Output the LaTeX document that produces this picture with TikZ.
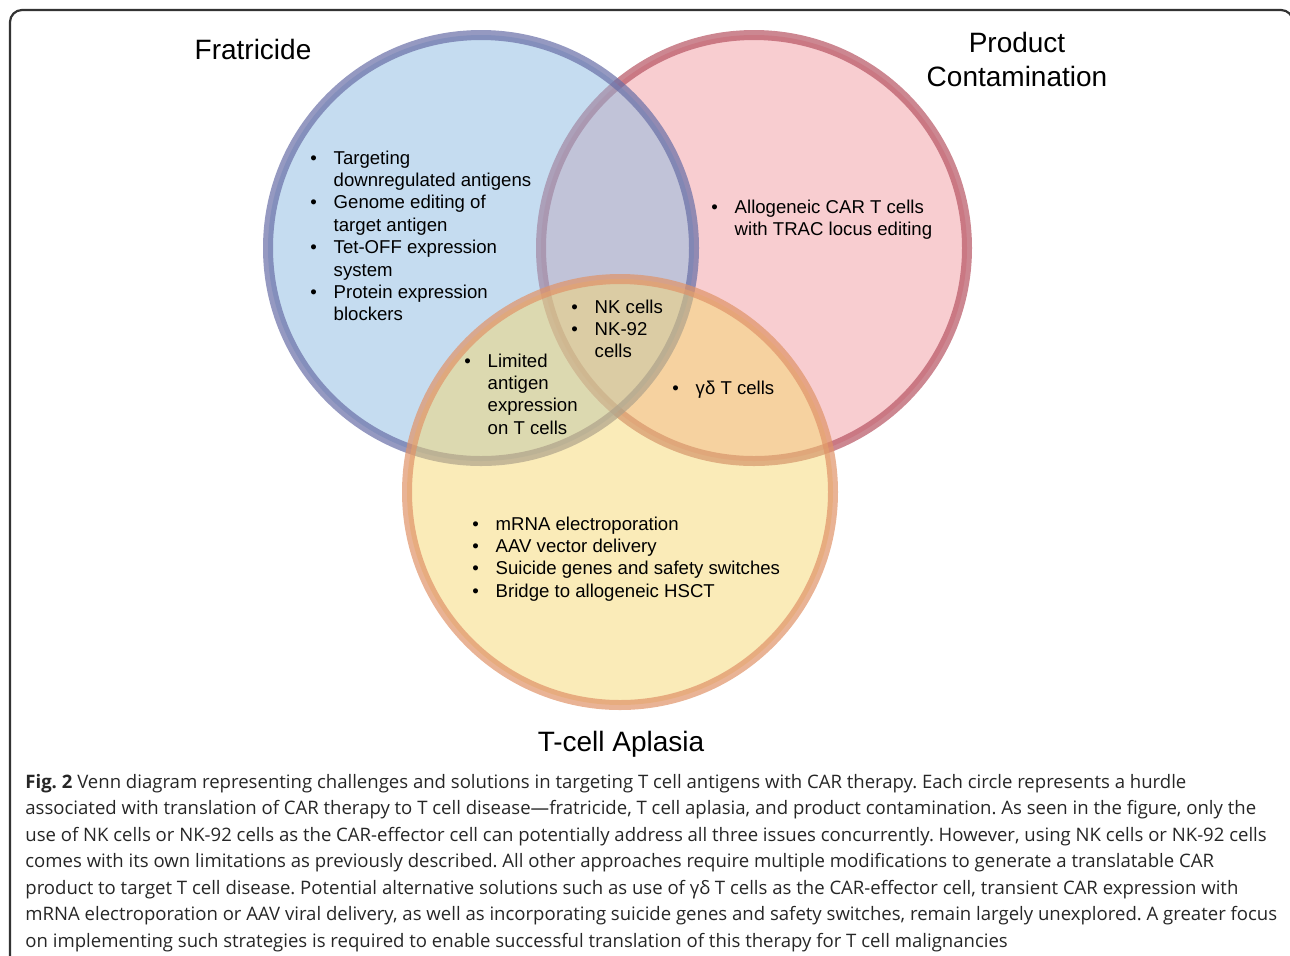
\documentclass[tikz,border=0pt]{standalone}
\usepackage{fontspec}
\setmainfont{Liberation Sans}
\newfontfamily\capfont{Open Sans}
\usepackage{tikz}

\definecolor{frafill}{RGB}{139,185,225}
\definecolor{fraline}{RGB}{104,110,166}
\definecolor{confill}{RGB}{241,155,161}
\definecolor{conline}{RGB}{183,84,99}
\definecolor{aplfill}{RGB}{245,215,113}
\definecolor{aplline}{RGB}{224,147,104}

\tikzset{
  venn/.style={line width=5pt, fill opacity=0.5, draw opacity=0.7},
  head/.style={anchor=base, inner sep=0pt, font=\fontsize{14}{17}\selectfont},
  pts/.style={anchor=base west, inner sep=0pt, font=\fontsize{9.3}{11.2}\selectfont},
}
\newcommand{\blist}[1]{\begin{tabular}[t]{@{}l@{\hspace{8.4pt}}l@{}}#1\end{tabular}}

\begin{document}
\begin{tikzpicture}[x=0.5pt,y=-0.5pt]
  \useasboundingbox (0,0) rectangle (1290,955);
  \clip (0,0) rectangle (1290,955);
  % frame
  \draw[line width=1.1pt, black!80, rounded corners=6pt]
    (10,965) -- (10,10) -- (1293,10) -- (1293,965);
  % circles
  \draw[venn, draw=conline, fill=confill] (754,248) circle (106.5pt);
  \draw[venn, draw=fraline, fill=frafill] (481,248) circle (106.5pt);
  \draw[venn, draw=aplline, fill=aplfill] (620,492) circle (106.5pt);
  % titles
  \node[head] (fra) at (253,59) {Fratricide};
  \node[head] (con) at (1017,52) {\begin{tabular}[t]{@{}c@{}}Product\\Contamination\end{tabular}};
  \node[head] (apl) at (621,751) {T-cell Aplasia};
  % lists
  \node[pts] (fralist) at (310,164) {\blist{%
    \textbullet & Targeting\\
                & downregulated antigens\\
    \textbullet & Genome editing of\\
                & target antigen\\
    \textbullet & Tet-OFF expression\\
                & system\\
    \textbullet & Protein expression\\
                & blockers}};
  \node[pts] (conlist) at (711,213) {\blist{%
    \textbullet & Allogeneic CAR T cells\\
                & with TRAC locus editing}};
  \node[pts] (alllist) at (571,313) {\blist{%
    \textbullet & NK cells\\
    \textbullet & NK-92\\
                & cells}};
  \node[pts] (faplist) at (464,367) {\blist{%
    \textbullet & Limited\\
                & antigen\\
                & expression\\
                & on T cells}};
  \node[pts] (caplist) at (672,394) {\blist{%
    \textbullet & γδ T cells}};
  \node[pts] (apllist) at (472,530) {\blist{%
    \textbullet & mRNA electroporation\\
    \textbullet & AAV vector delivery\\
    \textbullet & Suicide genes and safety switches\\
    \textbullet & Bridge to allogeneic HSCT}};
  % caption
  \node[anchor=base west, inner sep=0pt, text=black!85, font=\capfont\fontsize{9.28}{13.25}\selectfont\frenchspacing] (cap) at (25,788) {%
    \begin{tabular}[t]{@{}l@{}}
    \textbf{Fig. 2} Venn diagram representing challenges and solutions in targeting T cell antigens with CAR therapy. Each circle represents a hurdle\\
    associated with translation of CAR therapy to T cell disease—fratricide, T cell aplasia, and product contamination. As seen in the figure, only the\\
    use of NK cells or NK-92 cells as the CAR-effector cell can potentially address all three issues concurrently. However, using NK cells or NK-92 cells\\
    comes with its own limitations as previously described. All other approaches require multiple modifications to generate a translatable CAR\\
    product to target T cell disease. Potential alternative solutions such as use of γδ T cells as the CAR-effector cell, transient CAR expression with\\
    mRNA electroporation or AAV viral delivery, as well as incorporating suicide genes and safety switches, remain largely unexplored. A greater focus\\
    on implementing such strategies is required to enable successful translation of this therapy for T cell malignancies
    \end{tabular}};
\end{tikzpicture}
\end{document}
